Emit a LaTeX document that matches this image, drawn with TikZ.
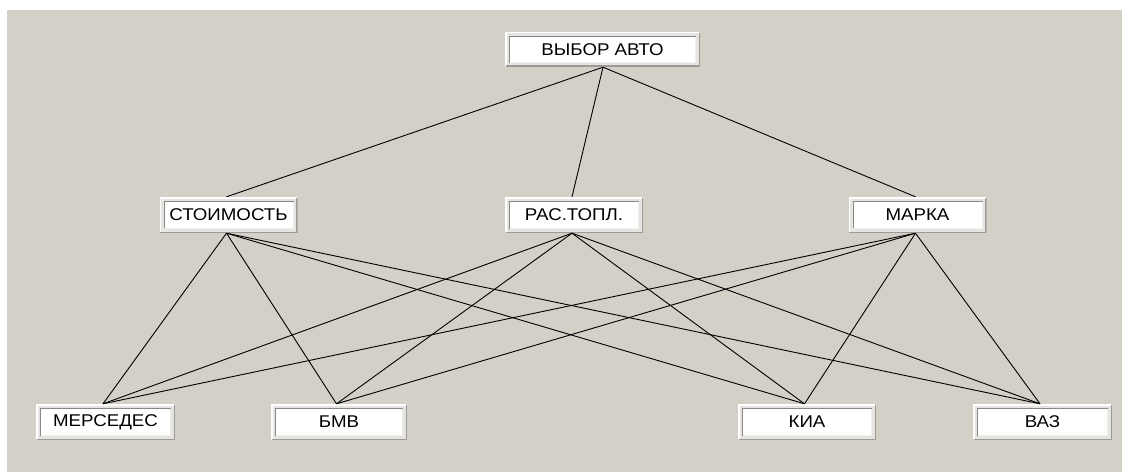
\documentclass[tikz,border=0pt]{standalone}
\usepackage{fontspec}
\setmainfont[FakeStretch=1.1]{Liberation Sans}
\usetikzlibrary{calc}
\definecolor{panel}{HTML}{D4D0C8}
\definecolor{frame}{HTML}{E6E4E0}
\definecolor{shadow}{HTML}{9C9A96}
\definecolor{innerdark}{HTML}{8A8884}
\tikzset{
  vbox/.style={minimum width=138pt, minimum height=36pt, inner sep=0pt,
    fill=frame, draw=none,
    font=\fontsize{17}{20}\selectfont,
    path picture={
      \coordinate (nw) at (path picture bounding box.north west);
      \coordinate (se) at (path picture bounding box.south east);
      \draw[white, line width=1.5pt] ($(nw|-se)+(0.75,0.75)$) -- ($(nw)+(0.75,-0.75)$) -- ($(nw-|se)+(-0.75,-0.75)$);
      \draw[shadow, line width=1.5pt] ($(nw-|se)+(-0.75,-0.75)$) -- ($(se)+(-0.75,0.75)$) -- ($(nw|-se)+(0.75,0.75)$);
      \fill[white] ($(nw)+(4,-4)$) rectangle ($(se)+(-4,4)$);
      \draw[innerdark, line width=1.2pt] ($(nw|-se)+(4.6,4)$) -- ($(nw)+(4.6,-4.6)$) -- ($(nw-|se)+(-4,-4.6)$);
      \draw[frame!60!white, line width=1pt] ($(nw-|se)+(-4.5,-4.6)$) -- ($(se)+(-4.5,4.5)$) -- ($(nw|-se)+(4.6,4.5)$);
    }},
  link/.style={black, line width=0.9pt}
}
\begin{document}
\begin{tikzpicture}[x=1pt,y=1pt]
\useasboundingbox (0,0) rectangle (1126,472);
\fill[panel] (7,0) rectangle (1122,462);
% nodes
\node[vbox, minimum width=195pt, minimum height=35pt] (top) at (602.5,422.5) {ВЫБОР АВТО};
\node[vbox] (st) at (228.5,257) {СТОИМОСТЬ};
\node[vbox] (ra) at (574,257) {РАС.ТОПЛ.};
\node[vbox] (ma) at (917.5,257) {МАРКА};
\node[vbox, minimum width=139pt] (me) at (105.5,50) {МЕРСЕДЕС};
\node[vbox, minimum width=136pt] (bm) at (339,50) {БМВ};
\node[vbox] (ki) at (807,50) {КИА};
\node[vbox, minimum width=139pt] (va) at (1042.5,50) {ВАЗ};
% links top
\foreach \m in {st,ra,ma}
  \draw[link] ([xshift=0.5pt]top.south) -- ([xshift=-2pt]\m.north);
% links middle to bottom
\foreach \m in {st,ra,ma}
  \foreach \b in {me,bm,ki,va}
    \draw[link] ([xshift=-2pt]\m.south) -- ([xshift=-2.5pt]\b.north);
\end{tikzpicture}
\end{document}
